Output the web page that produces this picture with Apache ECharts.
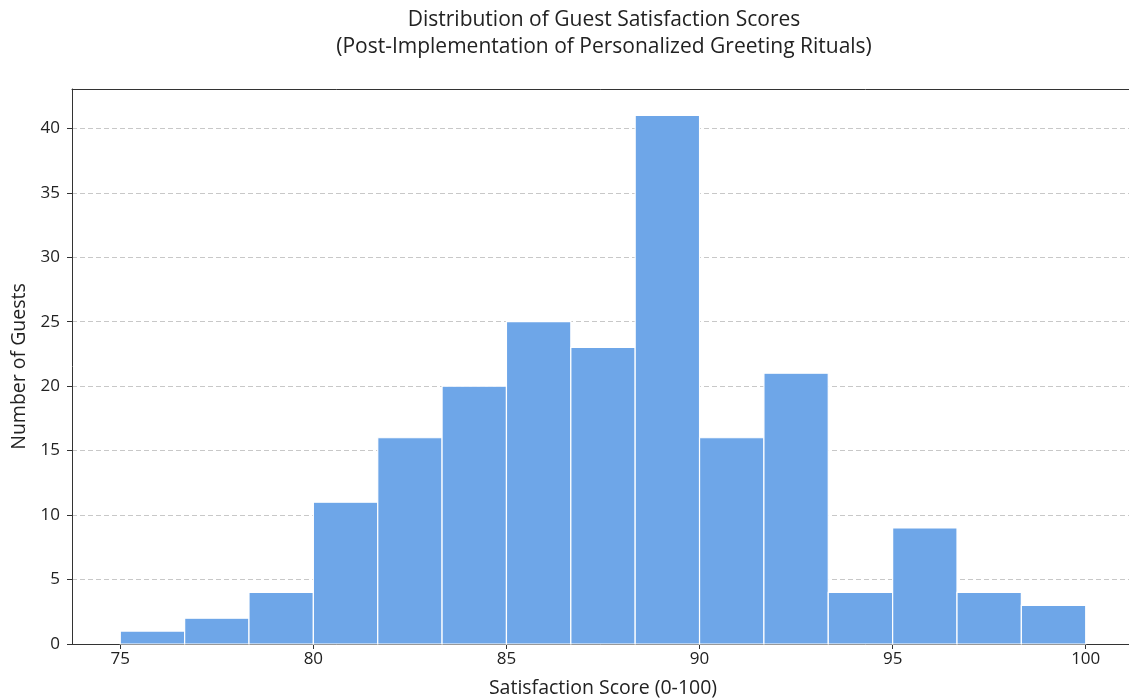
<!DOCTYPE html>
<html>
<head>
<meta charset="utf-8">
<script src="https://cdn.jsdelivr.net/npm/echarts@6/dist/echarts.min.js"></script>
<style>html,body{margin:0;padding:0;background:#fff;overflow:hidden}#c{width:1129px;height:699px}</style>
</head>
<body>
<div id="c"></div>
<script>
const binEdges = [75, 76.667, 78.333, 80, 81.667, 83.333, 85, 86.667, 88.333, 90, 91.667, 93.333, 95, 96.667, 98.333, 100];
const counts = [1, 2, 4, 11, 16, 20, 25, 23, 41, 16, 21, 4, 9, 4, 3];
const xTicks = [75, 80, 85, 90, 95, 100];
const yTicks = [0, 5, 10, 15, 20, 25, 30, 35, 40];

const chart = echarts.init(document.getElementById('c'));
const FONT = '"Open Sans"';
const data = counts.map((c, i) => [binEdges[i], binEdges[i + 1], c]);

chart.setOption({
  animation: false,
  backgroundColor: '#fff',
  textStyle: { fontFamily: FONT },
  title: {
    text: 'Distribution of Guest Satisfaction Scores\n(Post-Implementation of Personalized Greeting Rituals)',
    left: 599, top: 2, textAlign: 'center',
    textStyle: { fontFamily: FONT, fontSize: 21, fontWeight: 'normal', color: '#222', lineHeight: 27 }
  },
  grid: { left: 72, width: 1062, top: 89, bottom: 55, outerBoundsMode: 'none', containLabel: false, show: false },
  xAxis: [{
    type: 'value', min: 73.75, max: 101.25,
    name: 'Satisfaction Score (0-100)', nameLocation: 'middle', nameGap: 34,
    nameTextStyle: { fontFamily: FONT, fontSize: 19.5, color: '#222' },
    axisLine: { show: true, onZero: false, lineStyle: { color: '#333', width: 1 } },
    axisTick: { show: true, length: 5, lineStyle: { color: '#333' }, customValues: xTicks },
    axisLabel: { fontFamily: FONT, fontSize: 17, color: '#222', margin: 7, customValues: xTicks },
    splitLine: { show: false }
  }, {
    type: 'value', position: 'top', min: 73.75, max: 101.25,
    axisLine: { show: true, onZero: false, lineStyle: { color: '#333', width: 1 } },
    axisTick: { show: false }, axisLabel: { show: false }, splitLine: { show: false }
  }],
  yAxis: {
    type: 'value', min: 0, max: 43.05,
    name: 'Number of Guests', nameLocation: 'middle', nameGap: 43,
    nameTextStyle: { fontFamily: FONT, fontSize: 19.5, color: '#222' },
    axisLine: { show: true, lineStyle: { color: '#333', width: 1 } },
    axisTick: { show: true, length: 5, lineStyle: { color: '#333' }, customValues: yTicks },
    axisLabel: { fontFamily: FONT, fontSize: 17, color: '#222', margin: 12, customValues: yTicks },
    splitLine: { show: true, lineStyle: { color: '#c8c8c8', type: [5, 3], width: 1 } }
  },
  series: [{
    type: 'custom',
    xAxisIndex: 0,
    data: data,
    encode: { x: [0, 1], y: 2 },
    clip: false,
    renderItem: function (params, api) {
      const p0 = api.coord([api.value(0), api.value(2)]);
      const p1 = api.coord([api.value(1), 0]);
      return {
        type: 'rect',
        shape: { x: p0[0], y: p0[1], width: p1[0] - p0[0], height: p1[1] - p0[1] },
        style: { fill: '#6ea6e8', stroke: '#ffffff', lineWidth: 1.2 }
      };
    }
  }]
});
</script>
</body>
</html>
